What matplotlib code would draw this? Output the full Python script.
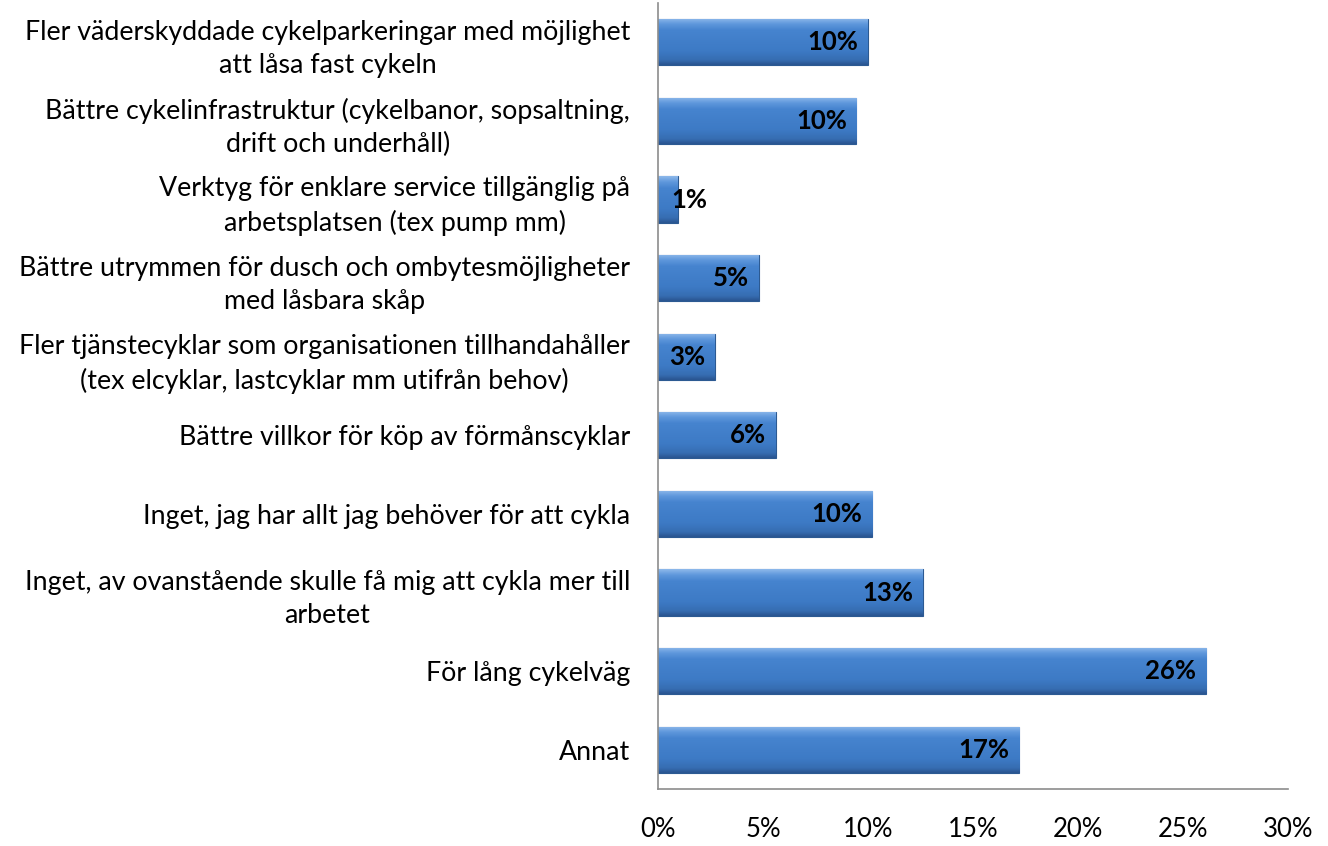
import matplotlib
matplotlib.use("Agg")
import matplotlib.pyplot as plt
import numpy as np
from matplotlib.colors import LinearSegmentedColormap

categories = [
    "Fler väderskyddade cykelparkeringar med möjlighet\natt låsa fast cykeln",
    "Bättre cykelinfrastruktur (cykelbanor, sopsaltning,\ndrift och underhåll)",
    "Verktyg för enklare service tillgänglig på\narbetsplatsen (tex pump mm)",
    "Bättre utrymmen för dusch och ombytesmöjligheter\nmed låsbara skåp",
    "Fler tjänstecyklar som organisationen tillhandahåller\n(tex elcyklar, lastcyklar mm utifrån behov)",
    "Bättre villkor för köp av förmånscyklar",
    "Inget, jag har allt jag behöver för att cykla",
    "Inget, av ovanstående skulle få mig att cykla mer till\narbetet",
    "För lång cykelväg",
    "Annat",
]
values = [10.0, 9.45, 0.95, 4.8, 2.7, 5.6, 10.2, 12.6, 26.1, 17.2]
value_labels = ["10%", "10%", "1%", "5%", "3%", "6%", "10%", "13%", "26%", "17%"]
xticks = [0, 5, 10, 15, 20, 25, 30]

plt.rcParams['font.family'] = ['Lato', 'DejaVu Sans']

fig = plt.figure(figsize=(13.28, 8.46), dpi=100)
ax = fig.add_axes([658/1328, 1 - 789/846, (1288-658)/1328, (789-3)/846])

y = np.arange(len(categories))
bars = ax.barh(y, values, height=0.59, color="#3E7DC9", edgecolor="#2C5A92",
               linewidth=0.8, zorder=2)

cmap = LinearSegmentedColormap.from_list(
    "bev", [(0.0, "#8DB8EA"), (0.12, "#5E97DC"), (0.25, "#4684CF"),
            (0.7, "#3D7AC5"), (0.9, "#366DB2"), (1.0, "#2A5590")])
grad = np.linspace(0, 1, 64).reshape(-1, 1)
for b in bars:
    x0, y0 = b.get_x(), b.get_y()
    w, h = b.get_width(), b.get_height()
    im = ax.imshow(grad, cmap=cmap, aspect='auto',
                   extent=(x0, x0 + w, y0 + h, y0), zorder=2.5,
                   interpolation='bicubic')
    im.set_clip_path(b)

for b, v, lab in zip(bars, values, value_labels):
    yc = b.get_y() + b.get_height() / 2
    if v < 2:
        ax.annotate(lab, (v, yc), xytext=(-5, 0), textcoords="offset points",
                    ha="left", va="center", fontsize=18.5, fontweight="bold",
                    color="black", zorder=4)
    else:
        ax.annotate(lab, (v, yc), xytext=(-7, 0), textcoords="offset points",
                    ha="right", va="center", fontsize=18.5, fontweight="bold",
                    color="black", zorder=4)

ax.set_xlim(0, 30)
ax.set_ylim(len(categories) - 0.5, -0.5)
ax.set_xticks(xticks)
ax.set_xticklabels([f"{t}%" for t in xticks], fontsize=18.5)
ax.set_yticks(y)
ax.set_yticklabels(categories, fontsize=19.3, multialignment="center",
                   linespacing=1.42)
ax.tick_params(axis="both", length=0)
ax.tick_params(axis="x", pad=20)
ax.tick_params(axis="y", pad=20)
for s in ["top", "right"]:
    ax.spines[s].set_visible(False)
for s in ["left", "bottom"]:
    ax.spines[s].set_color("#8C8C8C")
    ax.spines[s].set_linewidth(1.2)

fig.savefig("out.png", dpi=100)
